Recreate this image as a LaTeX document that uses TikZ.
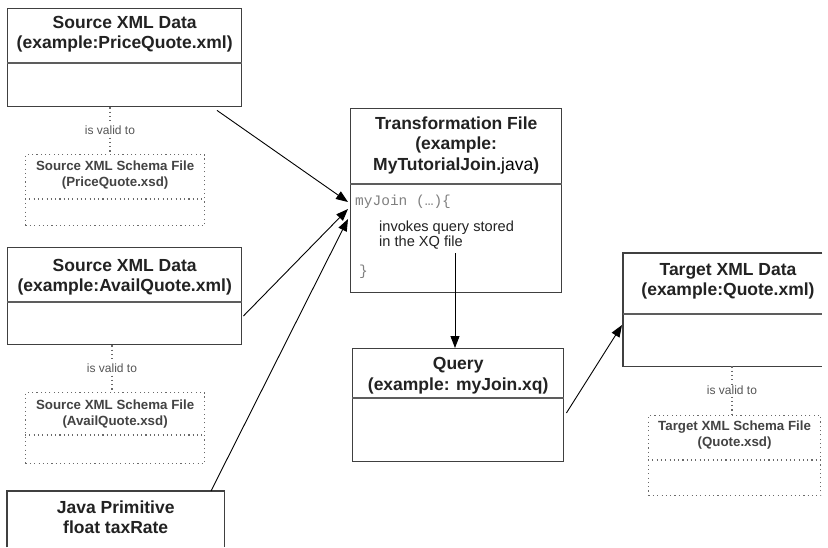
\documentclass[tikz,border=0pt]{standalone}
\usepackage{fontspec}
\setmainfont{Liberation Sans}
\setmonofont{Liberation Mono}
\usetikzlibrary{arrows.meta,calc}
\definecolor{boxline}{HTML}{404040}
\definecolor{txt}{HTML}{222222}
\definecolor{dotc}{HTML}{6A6A6A}
\tikzset{
  box/.style={draw=boxline, line width=1.4pt, rectangle, inner sep=0pt, anchor=north west},
  openbox/.style={rectangle, inner sep=0pt, anchor=north west},
  boxedge/.style={draw=boxline, line width=1.4pt},
  schema/.style={draw=dotc, line width=1.2pt, dash pattern=on 1.1pt off 3.2pt, rectangle, inner sep=0pt, anchor=north west},
  title/.style={align=center, text=txt, font=\bfseries\fontsize{17.5}{20.5}\selectfont, inner sep=0pt},
  stitle/.style={align=center, text=txt!85, font=\bfseries\fontsize{13.3}{16}\selectfont, inner sep=0pt},
  divider/.style={draw=boxline!85, line width=1.6pt},
  sdivider/.style={draw=dotc, line width=1.2pt, dash pattern=on 1.1pt off 3.2pt},
  valid/.style={draw=dotc, line width=1.2pt, dash pattern=on 1.1pt off 3.2pt},
  vlabel/.style={text=dotc!80!black, font=\fontsize{12}{14}\selectfont, fill=white, inner sep=1.5pt},
  flow/.style={draw=black, line width=0.9pt, -{Triangle[length=12pt,width=9pt]}},
  body/.style={text=txt, font=\fontsize{14.6}{15}\selectfont, inner sep=0pt, align=left},
  code/.style={text=gray, font=\ttfamily\fontsize{14.5}{16}\selectfont, inner sep=0pt},
}
\begin{document}
\begin{tikzpicture}[x=1pt,y=-1pt]
\fill[white] (0,0) rectangle (828,547);
\useasboundingbox (0,0) rectangle (828,547);

% ---- Source 1
\node[box, minimum width=234pt, minimum height=98pt] (src1) at (7,8) {};
\draw[divider] ($(src1.north west)+(0,55)$) -- ($(src1.north east)+(0,55)$);
\node[title] (src1t) at ($(src1.north)+(0,26)$) {Source XML Data\\(example:PriceQuote.xml)};

\node[schema, minimum width=179pt, minimum height=71pt] (sch1) at (25,154) {};
\draw[sdivider] ($(sch1.north west)+(0,45)$) -- ($(sch1.north east)+(0,45)$);
\node[stitle] (sch1t) at ($(sch1.north)+(0,21.5)$) {Source XML Schema File\\(PriceQuote.xsd)};
\coordinate (v1a) at ($(src1.south west)+(103,0)$);
\coordinate (v1b) at ($(sch1.north west)+(85,0)$);
\draw[valid] (v1a) -- node[vlabel] (v1l) {is valid to} (v1b);

% ---- Source 2
\node[box, minimum width=234pt, minimum height=97pt] (src2) at (7,247) {};
\draw[divider] ($(src2.north west)+(0,55)$) -- ($(src2.north east)+(0,55)$);
\node[title] (src2t) at ($(src2.north)+(0,30)$) {Source XML Data\\(example:AvailQuote.xml)};

\node[schema, minimum width=179pt, minimum height=71pt] (sch2) at (25,392) {};
\draw[sdivider] ($(sch2.north west)+(0,43)$) -- ($(sch2.north east)+(0,43)$);
\node[stitle] (sch2t) at ($(sch2.north)+(0,22)$) {Source XML Schema File\\(AvailQuote.xsd)};
\coordinate (v2a) at ($(src2.south west)+(105,0)$);
\coordinate (v2b) at ($(sch2.north west)+(87,0)$);
\draw[valid] (v2a) -- node[vlabel] (v2l) {is valid to} (v2b);

% ---- Java primitive (runs past the bottom edge)
\node[openbox, minimum width=217pt, minimum height=56pt] (java) at (7,491) {};
\draw[boxedge] (java.south west) -- (java.north west) -- (java.north east) -- (java.south east);
\node[title] (javat) at ($(java.north)+(0,26)$) {Java Primitive\\float taxRate};

% ---- Transformation
\node[box, minimum width=211pt, minimum height=184pt] (trans) at (350,108) {};
\draw[divider] ($(trans.north west)+(0,76)$) -- ($(trans.north east)+(0,76)$);
\node[title] (transt) at ($(trans.north)+(0,37)$) {Transformation File\\(example:\\MyTutorialJoin.{\mdseries\color{black}java})};
\node[code, anchor=west] (sig) at ($(trans.north west)+(5,94)$) {myJoin (…)\{};
\node[body, anchor=west] (inv) at ($(trans.north west)+(29,127)$) {invokes query stored\\in the XQ file};
\node[code, anchor=west] (close) at ($(trans.north west)+(9,164)$) {\}};

% ---- Query
\node[box, minimum width=211pt, minimum height=113pt] (query) at (352,348) {};
\draw[divider] ($(query.north west)+(0,50)$) -- ($(query.north east)+(0,50)$);
\node[title] (queryt) at ($(query.north)+(0,27.5)$) {Query\\(example: myJoin.xq)};

% ---- Target (runs past the right edge: no right side)
\node[openbox, minimum width=199pt, minimum height=113pt] (target) at (623,253) {};
\draw[boxedge] (target.north east) -- (target.north west) -- (target.south west) -- (target.south east);
\draw[divider] ($(target.north west)+(0,61)$) -- ($(target.north east)+(0,61)$);
\node[title] (targett) at ($(target.north west)+(105,28.5)$) {Target XML Data\\(example:Quote.xml)};

\node[schema, minimum width=172pt, minimum height=80pt] (tsch) at (648,415) {};
\draw[sdivider] ($(tsch.north west)+(0,45)$) -- ($(tsch.north east)+(0,45)$);
\node[stitle] (tscht) at ($(tsch.north)+(0,20.5)$) {Target XML Schema File\\(Quote.xsd)};
\coordinate (v3a) at ($(target.south west)+(109,0)$);
\coordinate (v3b) at ($(tsch.north west)+(84,0)$);
\draw[valid] (v3a) -- node[vlabel] (v3l) {is valid to} (v3b);

% ---- flows
\coordinate (a1s) at ($(src1.south west)+(210,3)$);
\coordinate (a2s) at ($(src2.north east)+(1,69)$);
\coordinate (a3s) at ($(java.north west)+(204,0)$);
\coordinate (in1) at ($(trans.north west)+(-2,94)$);
\coordinate (in2) at ($(trans.north west)+(-2,101)$);
\coordinate (in3) at ($(trans.north west)+(-2,111)$);
\draw[flow] (a1s) -- (in1);
\draw[flow] (a2s) -- (in2);
\draw[flow] (a3s) -- (in3);

\coordinate (qs) at ($(trans.north west)+(105,145)$);
\draw[flow] (qs) -- (query.north -| qs);

\coordinate (a5s) at ($(query.north east)+(2,65)$);
\coordinate (a5e) at ($(target.north west)+(-1,72)$);
\draw[flow] (a5s) -- (a5e);
\end{tikzpicture}
\end{document}
